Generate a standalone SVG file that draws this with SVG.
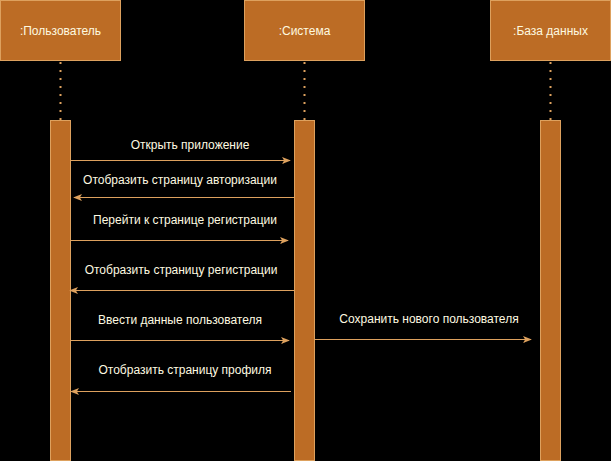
<svg xmlns="http://www.w3.org/2000/svg" width="611" height="461" viewBox="0 0 611 461">
<defs>
<style>
.box{fill:#bc6c25;stroke:#dda15e;stroke-width:1}
.bar{fill:#bc6c25;stroke:#dda15e;stroke-width:1}
.life{stroke:#dda15e;stroke-width:2;stroke-dasharray:2 6;fill:none}
.msg{stroke:#dda15e;stroke-width:1;fill:none;marker-end:url(#arr)}
.t{font-family:"Liberation Sans",Arial,sans-serif;font-size:12px;fill:#fefae0;text-anchor:middle}
</style>
<marker id="arr" viewBox="0 0 10 10" refX="9" refY="5" markerWidth="9" markerHeight="9" markerUnits="userSpaceOnUse" orient="auto">
<path d="M0,1 L10,5 L0,9 L2.5,5 Z" fill="#dda15e"/>
</marker>
</defs>
<rect width="611" height="461" fill="#000"/>
<g id="user">
<rect class="box" x="0.5" y="0.5" width="120" height="60"/>
<text class="t" x="60.5" y="34.5">:Пользователь</text>
<line class="life" x1="60.5" y1="62" x2="60.5" y2="120"/>
<rect class="bar" x="50.5" y="120.5" width="20" height="340"/>
</g>
<g id="system">
<rect class="box" x="244.5" y="0.5" width="120" height="60"/>
<text class="t" x="304.5" y="34.5">:Система</text>
<line class="life" x1="304.5" y1="62" x2="304.5" y2="120"/>
<rect class="bar" x="294.5" y="120.5" width="20" height="340"/>
</g>
<g id="db">
<rect class="box" x="490.5" y="0.5" width="120" height="60"/>
<text class="t" x="550.5" y="34.5">:База данных</text>
<line class="life" x1="550.5" y1="62" x2="550.5" y2="120"/>
<rect class="bar" x="540.5" y="120.5" width="20" height="340"/>
</g>
<g id="connectors">
<line class="msg" x1="71" y1="160.5" x2="290" y2="160.5"/>
<text class="t" x="190" y="149">Открыть приложение</text>
<line class="msg" x1="294" y1="197.5" x2="74" y2="197.5"/>
<text class="t" x="180" y="184">Отобразить страницу авторизации</text>
<line class="msg" x1="71" y1="240.5" x2="288" y2="240.5"/>
<text class="t" x="185" y="224">Перейти к странице регистрации</text>
<line class="msg" x1="294" y1="290.5" x2="70" y2="290.5"/>
<text class="t" x="181" y="274">Отобразить страницу регистрации</text>
<line class="msg" x1="71" y1="340.5" x2="289" y2="340.5"/>
<text class="t" x="180" y="324">Ввести данные пользователя</text>
<line class="msg" x1="315" y1="339.5" x2="531" y2="339.5"/>
<text class="t" x="429" y="323">Сохранить нового пользователя</text>
<line class="msg" x1="291" y1="391.5" x2="71" y2="391.5"/>
<text class="t" x="185" y="374">Отобразить страницу профиля</text>
</g>
</svg>
